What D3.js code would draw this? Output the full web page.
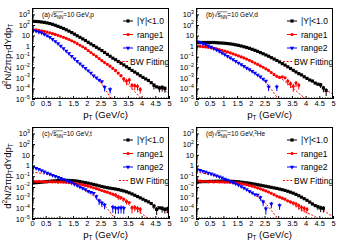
<!DOCTYPE html>
<html><head><meta charset="utf-8">
<script src="https://cdn.jsdelivr.net/npm/d3@7/dist/d3.min.js"></script>
<style>
html,body{margin:0;padding:0;background:#fff;}
svg{display:block;font-family:"Liberation Sans",Arial,Helvetica,sans-serif;}
</style></head><body>
<svg id="chart" width="350" height="245"></svg>
<script>
// ---------- shared axes / categories ----------
const ptBins=[0.05,0.15,0.25,0.35,0.45,0.55,0.65,0.75,0.85,0.95,1.05,1.15,1.25,1.35,1.45,1.55,1.65,1.75,1.85,1.95,2.05,2.15,2.25,2.35,2.45,2.55,2.65,2.75,2.85,2.95,3.05,3.15,3.25,3.35,3.45,3.55,3.65,3.75,3.85,3.95,4.05,4.15,4.25,4.35,4.45,4.55,4.65,4.75,4.85,4.95];
const fitPt=[0,0.25,0.5,0.75,1,1.25,1.5,1.75,2,2.25,2.5,2.75,3,3.25,3.5,3.75,4,4.25,4.5,4.75,5];
const xTickValues=[0,0.5,1,1.5,2,2.5,3,3.5,4,4.5,5];
const xTickLabels=["0","0.5","1","1.5","2","2.5","3","3.5","4","4.5","5"];
const yTickValues=[1e-5,1e-4,1e-3,1e-2,1e-1,1,10,100,1000];
const yTickExp=[-5,-4,-3,-2,-1,0,1,2,3];
const seriesNames=["|Y|<1.0","range1","range2"];
const fitName="BW Fitting";
const panelTags=["(a)","(b)","(c)","(d)"];
const particles=["p","d","t","He"];
const particleSup=["","","","3"];

// ---------- panel (a) p ----------
const aY1=[214,214,204,190,174,155,135,115,93,74,59,46,35,26,19,13.5,9.5,6.8,4.8,3.4,2.3,1.6,1.12,0.78,0.55,0.38,0.25,0.166,0.11,0.072,0.052,0.035,0.024,0.0166,0.0112,0.0076,0.005,0.0035,0.0024,0.0016,0.0011,7.9e-4,5.6e-4,3.5e-4,2.0e-4,1.4e-4,1.1e-4,1.26e-4,1.0e-4];
const aR1=[35,34,31,28,25,21,18,15,12.6,10.5,8.5,6.8,5.4,4.2,3.2,2.4,1.7,1.2,0.87,0.6,0.38,0.25,0.16,0.105,0.066,0.042,0.028,0.019,0.0126,0.0079,0.005,0.0028,0.0016,7.9e-4,5e-4,6.3e-4,2e-4,1.8e-4,1.6e-4,8e-5];
const aR2=[30,26,22,18,13.5,9.8,6.8,4.5,2.8,1.74,1.02,0.6,0.35,0.2,0.112,0.063,0.037,0.022,0.0132,0.0079,0.0048,0.0028,0.0016,0.001,6.3e-4,4.5e-4,1.26e-4,null,8e-5];
const aFitY1=[219,209,166,115,66,34.7,15.8,6.76,2.82,1.15,0.468,0.174,0.0631,0.0234,8.91e-3,3.39e-3,1.32e-3,5.25e-4,2.09e-4,8.51e-5,3.55e-5];
const aFitR1=[36.3,31.6,22.9,15.1,9.33,5.37,2.82,1.26,0.501,0.166,0.0525,0.0158,4.47e-3,1.12e-3,2.51e-4,5.01e-5,1e-5,2e-6];
const aFitR2=[31.6,21.4,11.5,4.57,1.32,0.339,0.0851,0.0224,6.03e-3,1.58e-3,3.98e-4,3.98e-5,3.98e-6];
const aErrY1=[[44,0.6],[46,0.6],[47,0.6],[48,0.6]];
const aErrR1=[[33,0.5],[34,0.6],[35,0.6],[36,0.6],[37,0.6],[38,0.6],[39,0.6]];
const aErrR2=[[26,0.6],[28,0.6]];

// ---------- panel (b) d ----------
const bY1=[2.1,2.2,2.2,2.2,2.2,2.2,2.2,2.1,2.0,1.95,1.86,1.74,1.62,1.48,1.32,1.17,1.02,0.87,0.74,0.62,0.5,0.4,0.32,0.245,0.19,0.145,0.11,0.081,0.06,0.044,0.032,0.022,0.016,0.011,0.0076,0.0052,0.0036,0.0025,0.0019,0.00126,8.9e-4,6.3e-4,5e-4,3.2e-4,2.5e-4,2.2e-4,1.1e-4,6.3e-5];
const bR1=[1.0,0.95,0.89,0.83,0.76,0.69,0.62,0.54,0.47,0.4,0.34,0.28,0.23,0.186,0.15,0.12,0.095,0.076,0.059,0.045,0.034,0.025,0.0186,0.0135,0.01,0.0071,0.005,0.0032,0.002,0.0014,0.0011,0.00126,0.001,5e-4,2.8e-4,1.6e-4,3.2e-4,2e-4];
const bR2=[2.6,2.2,1.8,1.41,1.07,0.81,0.6,0.44,0.32,0.22,0.158,0.112,0.078,0.054,0.037,0.026,0.0178,0.0126,0.0087,0.006,0.0042,0.0028,0.0019,0.00126,7.9e-4,5e-4,1.4e-4,null,null,1.4e-4];
const bFitY1=[2.24,2.24,2.24,2.14,1.91,1.62,1.26,0.871,0.562,0.316,0.166,0.0832,0.0372,0.0158,6.31e-3,2.63e-3,1.07e-3,4.47e-4,1.78e-4,7.08e-5,2.82e-5];
const bFitR1=[1.0,0.891,0.724,0.537,0.372,0.234,0.135,0.0759,0.0398,0.0191,8.71e-3,3.55e-3,1.41e-3,4.47e-4,1.26e-4,3.55e-5,1e-5,2.82e-6];
const bFitR2=[2.4,1.58,0.759,0.398,0.174,0.0741,0.0302,0.012,4.68e-3,1.66e-3,5.01e-4,7.94e-5,1e-5,1.26e-6];
const bErrY1=[[45,0.5],[46,0.6],[47,0.7]];
const bErrR1=[[33,0.6],[34,0.6],[35,0.7],[36,0.6],[37,0.6]];
const bErrR2=[[26,0.6],[29,0.6]];

// ---------- panel (c) t ----------
const cY1=[0.024,0.025,0.026,0.0275,0.0295,0.0316,0.034,0.0355,0.037,0.039,0.04,0.041,0.041,0.04,0.039,0.037,0.035,0.0316,0.028,0.025,0.0224,0.0195,0.017,0.0148,0.0126,0.011,0.0095,0.0085,0.0076,0.0069,0.0063,0.0056,0.0049,0.0042,0.0035,0.0028,0.0022,0.00166,0.00126,9.5e-4,7.1e-4,5.2e-4,4e-4,2.8e-4,1.6e-4,7.9e-5,1.1e-4,1e-4,8e-5,8.9e-5];
const cR1=[0.0355,0.0316,0.033,0.03,0.0316,0.0295,0.031,0.029,0.03,0.028,0.029,0.0275,0.027,0.0257,0.024,0.022,0.02,0.0178,0.0158,0.0138,0.0117,0.01,0.0083,0.0069,0.0056,0.0046,0.0038,0.0032,0.0026,0.0021,0.0018,0.00126,0.001,7.1e-4,4.5e-4,3.5e-4,1.1e-4,1.26e-4,1e-4,8e-5];
const cR2=[0.71,0.56,0.44,0.34,0.26,0.204,0.158,0.126,0.1,0.079,0.063,0.05,0.04,0.0316,0.024,0.0178,0.0132,0.01,0.0076,0.0056,0.004,0.0032,0.0025,0.00126,5e-4,3.2e-4,2e-4,null,null,1.26e-4,1e-4,1e-4,1.1e-4,1e-4];
const cFitY1=[0.0234,0.0263,0.0309,0.0355,0.0389,0.0407,0.038,0.0316,0.024,0.0174,0.012,8.51e-3,6.31e-3,4.47e-3,2.82e-3,1.58e-3,8.51e-4,4.17e-4,1.91e-4,7.94e-5,3.16e-5];
const cFitR1=[0.0331,0.0324,0.0309,0.0295,0.0282,0.0263,0.0229,0.0178,0.0126,8.32e-3,5.01e-3,2.82e-3,1.41e-3,6.31e-4,2.51e-4,8.91e-5,3.16e-5,1.12e-5,3.98e-6];
const cFitR2=[0.251,0.2,0.158,0.117,0.0794,0.0447,0.0224,0.01,3.98e-3,1.41e-3,4.47e-4,8.91e-5,1.41e-5,2.51e-6];
const cErrY1=[[44,0.5],[45,0.7],[47,0.6],[48,0.6],[49,0.6]];
const cErrR1=[[30,0.4],[31,0.5],[34,0.5],[36,0.7],[37,0.6],[38,0.6],[39,0.6]];
const cErrR2=[[23,0.5],[24,0.6],[25,0.6],[26,0.6],[29,0.7],[30,0.7],[31,0.7],[32,0.7],[33,0.7]];

// ---------- panel (d) 3He ----------
const dY1=[0.028,0.03,0.0316,0.0316,0.032,0.033,0.033,0.034,0.034,0.035,0.035,0.035,0.034,0.033,0.0316,0.03,0.028,0.026,0.024,0.022,0.02,0.018,0.0162,0.0145,0.0129,0.0115,0.0102,0.0091,0.0081,0.0072,0.0063,0.0055,0.0047,0.0039,0.0032,0.0026,0.002,0.0015,0.0011,7.9e-4,5.6e-4,3.8e-4,2.5e-4,1.8e-4,1.4e-4,1.1e-4,1e-4];
const dR1=[0.04,0.0355,0.0316,0.034,0.03,0.0316,0.0295,0.031,0.029,0.0295,0.028,0.0275,0.027,0.0257,0.0245,0.023,0.021,0.0186,0.0162,0.0138,0.0117,0.0098,0.0081,0.0066,0.0052,0.0042,0.0033,0.0025,0.0019,0.0014,0.0011,8.9e-4,7.1e-4,5e-4,4e-4,3.2e-4,2.5e-4,1.8e-4,1.26e-4,1e-4,8e-5];
const dR2=[0.4,0.355,0.3,0.25,0.204,0.166,0.135,0.11,0.089,0.071,0.056,0.044,0.034,0.026,0.02,0.0148,0.011,0.0079,0.0056,0.004,0.0028,0.002,0.0018,0.001,4e-4,8.9e-5,null,2.5e-4,null,null,1.8e-4];
const dFitY1=[0.0282,0.0309,0.0324,0.0339,0.0347,0.0339,0.0309,0.0263,0.0209,0.0162,0.0123,9.12e-3,6.76e-3,4.68e-3,2.82e-3,1.48e-3,7.08e-4,3.02e-4,1.2e-4,4.47e-5,1.58e-5];
const dFitR1=[0.0355,0.0331,0.0309,0.0295,0.0282,0.0263,0.0234,0.0186,0.0126,7.94e-3,4.47e-3,2.34e-3,1.17e-3,5.62e-4,2.51e-4,1.07e-4,4.47e-5,2.24e-5,1e-5,3.98e-6];
const dFitR2=[0.251,0.191,0.141,0.1,0.0631,0.0355,0.0178,7.94e-3,3.16e-3,1.12e-3,3.55e-4,6.31e-5,1e-5,1.58e-6];
const dErrY1=[[44,0.5],[45,0.6],[46,0.6]];
const dErrR1=[[36,0.5],[37,0.6],[38,0.6],[39,0.6],[40,0.6]];
const dErrR2=[[23,0.5],[24,0.6],[25,0.7],[27,0.6],[30,0.6]];

// ---------- drawing ----------
const svg=d3.select("#chart");
const defs=svg.append("defs");
const colX=[32,196], plotW=137;
const rowTB=[[8,99],[127,219]];
const yDomain=[1e-5,4e3];
const styles=[
  {c:"#000000",sym:d3.symbolSquare,size:10,rot:0},
  {c:"#ff0000",sym:d3.symbolCircle,size:8,rot:0},
  {c:"#0000ff",sym:d3.symbolTriangle,size:8,rot:180}
];
const fitColor="#ff0000";
const panels=[
  {data:[aY1,aR1,aR2],fits:[aFitY1,aFitR1,aFitR2],errs:[aErrY1,aErrR1,aErrR2]},
  {data:[bY1,bR1,bR2],fits:[bFitY1,bFitR1,bFitR2],errs:[bErrY1,bErrR1,bErrR2]},
  {data:[cY1,cR1,cR2],fits:[cFitY1,cFitR1,cFitR2],errs:[cErrY1,cErrR1,cErrR2]},
  {data:[dY1,dR1,dR2],fits:[dFitY1,dFitR1,dFitR2],errs:[dErrY1,dErrR1,dErrR2]}
];

panels.forEach((p,i)=>{
  const col=i%2,row=Math.floor(i/2);
  const x0=colX[col],x1=x0+plotW,top=rowTB[row][0],bot=rowTB[row][1];
  const x=d3.scaleLinear().domain([0,5]).range([x0,x1]);
  const y=d3.scaleLog().domain(yDomain).range([bot,top]);
  const g=svg.append("g");
  const cid="clip"+i;
  defs.append("clipPath").attr("id",cid).append("rect")
    .attr("x",x0).attr("y",top).attr("width",plotW).attr("height",bot-top);
  const plot=g.append("g").attr("clip-path",`url(#${cid})`);

  // fits (under data)
  const line=d3.line().x(d=>x(d[0])).y(d=>y(d[1])).curve(d3.curveMonotoneX);
  p.fits.forEach(f=>{
    const pts=f.map((v,j)=>[fitPt[j],v]);
    plot.append("path").attr("d",line(pts)).attr("fill","none")
      .attr("stroke",fitColor).attr("stroke-width",1).attr("stroke-dasharray","2,1.6");
  });

  // data
  p.data.forEach((arr,s)=>{
    const st=styles[s];
    const sg=plot.append("g");
    p.errs[s].forEach(([k,f])=>{
      const v=arr[k]; if(v==null) return;
      sg.append("line").attr("x1",x(ptBins[k])).attr("x2",x(ptBins[k]))
        .attr("y1",y(v*(1+f))).attr("y2",y(Math.max(v*(1-f),1e-6)))
        .attr("stroke",st.c).attr("stroke-width",1);
    });
    const sym=d3.symbol().type(st.sym).size(st.size);
    arr.forEach((v,k)=>{
      if(v==null) return;
      sg.append("path").attr("d",sym())
        .attr("transform",`translate(${x(ptBins[k])},${y(v)}) rotate(${st.rot})`)
        .attr("fill",st.c);
    });
  });

  // axes: x
  const xMinor=d3.range(0,5.0001,0.1).filter(v=>Math.abs(v*2-Math.round(v*2))>1e-6);
  const gx=g.append("g").attr("transform",`translate(0,${bot})`);
  gx.call(d3.axisBottom(x).tickValues(xTickValues).tickSizeInner(-3).tickSizeOuter(0).tickPadding(2)
    .tickFormat((d,j)=>xTickLabels[j]));
  gx.select(".domain").remove();
  gx.selectAll("text").attr("font-size",7.5).attr("font-family","Liberation Sans, Arial, sans-serif").attr("fill","#000");
  const gxm=g.append("g").attr("transform",`translate(0,${bot})`);
  gxm.call(d3.axisBottom(x).tickValues(xMinor).tickSizeInner(-1.6).tickSizeOuter(0).tickFormat(""));
  gxm.select(".domain").remove();

  // axes: y
  const yMinor=[];
  for(let e=-5;e<=3;e++){for(let m=2;m<=9;m++){const v=m*Math.pow(10,e);if(v<=yDomain[1])yMinor.push(v);}}
  const gy=g.append("g").attr("transform",`translate(${x0},0)`);
  gy.call(d3.axisLeft(y).tickValues(yTickValues).tickSizeInner(-3).tickSizeOuter(0).tickFormat(""));
  gy.select(".domain").remove();
  const gym=g.append("g").attr("transform",`translate(${x0},0)`);
  gym.call(d3.axisLeft(y).tickValues(yMinor).tickSizeInner(-1.6).tickSizeOuter(0).tickFormat(""));
  gym.select(".domain").remove();
  yTickValues.forEach((v,j)=>{
    const e=yTickExp[j];
    const t=g.append("text").attr("x",x0-2).attr("y",y(v)+2.7)
      .attr("text-anchor","end").attr("font-size",7.5).attr("fill","#000");
    if(e===0){t.text("1");}
    else if(e===1){t.text("10");}
    else{
      t.append("tspan").text("10");
      t.append("tspan").attr("font-size",5.2).attr("dy",-3.2).text(String(e).replace("-","\u2212"));
    }
  });

  // frame
  g.append("rect").attr("x",x0+0.5).attr("y",top+0.5).attr("width",plotW-1).attr("height",bot-top-1)
    .attr("fill","none").attr("stroke","#000").attr("stroke-width",1);

  // annotation
  const fs=6.5;
  const ax=x0+10, ay=top+9;
  const t=g.append("text").attr("x",ax).attr("y",ay).attr("font-size",fs).attr("fill","#000");
  const pre=panelTags[i]+"\u221A";
  t.append("tspan").text(pre);
  t.append("tspan").text("s");
  t.append("tspan").attr("font-size",4.5).attr("dy",1.5).text("NN");
  t.append("tspan").attr("dy",-1.5).text("=10 GeV,");
  if(particleSup[i]){
    t.append("tspan").attr("font-size",4.5).attr("dy",-2.5).text(particleSup[i]);
    t.append("tspan").attr("dy",2.5).text(particles[i]);
  } else {
    t.append("tspan").text(particles[i]);
  }
  const node=t.node();
  const e1=node.getExtentOfChar(pre.length-1);
  const e2=node.getExtentOfChar(pre.length+2);
  g.append("line").attr("x1",e1.x+e1.width-0.3).attr("x2",e2.x+e2.width)
    .attr("y1",ay-fs*0.8).attr("y2",ay-fs*0.8).attr("stroke","#000").attr("stroke-width",0.5);

  // legend
  const lf=8.5;
  const rows=[13,26.5,40,53.5];
  seriesNames.forEach((nm,s)=>{
    const st=styles[s];
    const ly=top+rows[s];
    g.append("line").attr("x1",x0+91).attr("x2",x0+101).attr("y1",ly).attr("y2",ly)
      .attr("stroke",st.c).attr("stroke-width",1);
    g.append("path").attr("d",d3.symbol().type(st.sym).size(st.size)())
      .attr("transform",`translate(${x0+96},${ly}) rotate(${st.rot})`).attr("fill",st.c);
    g.append("text").attr("x",x0+105).attr("y",ly+3).attr("font-size",lf).attr("fill","#000").text(nm);
  });
  const fy=top+rows[3];
  g.append("line").attr("x1",x0+87).attr("x2",x0+96).attr("y1",fy).attr("y2",fy)
    .attr("stroke",fitColor).attr("stroke-width",1).attr("stroke-dasharray","2,1.6");
  g.append("text").attr("x",x0+98).attr("y",fy+3).attr("font-size",lf).attr("fill","#000").text(fitName);

  // x title
  const xt=g.append("text").attr("x",(x0+x1)/2+5).attr("y",bot+18.5).attr("text-anchor","middle")
    .attr("font-size",9.5).attr("fill","#000");
  xt.append("tspan").text("p");
  xt.append("tspan").attr("font-size",6.5).attr("dy",2).text("T");
  xt.append("tspan").attr("dy",-2).text(" (GeV/c)");

  // y title (left column only)
  if(col===0){
    const cy=(top+bot)/2+3;
    const yt=g.append("text").attr("transform",`translate(10.5,${cy}) rotate(-90)`)
      .attr("text-anchor","middle").attr("font-size",9.5).attr("fill","#000");
    yt.append("tspan").text("d");
    yt.append("tspan").attr("font-size",6.5).attr("dy",-3.5).text("2");
    yt.append("tspan").attr("dy",3.5).text("N/2\u03C0p");
    yt.append("tspan").attr("font-size",6.5).attr("dy",2).text("T");
    yt.append("tspan").attr("dy",-2).text("dYdp");
    yt.append("tspan").attr("font-size",6.5).attr("dy",2).text("T");
  }
});
</script>
</body></html>
